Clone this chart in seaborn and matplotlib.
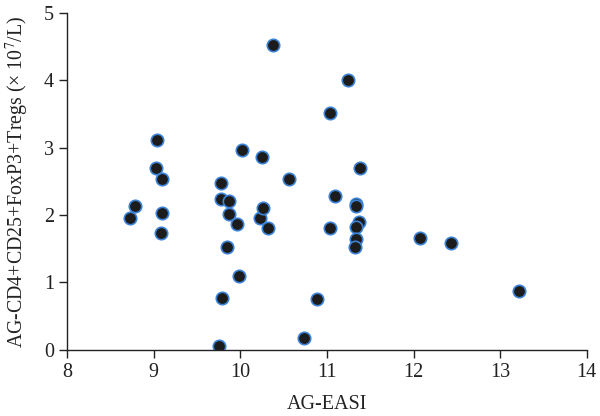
import matplotlib
matplotlib.use("Agg")
import matplotlib.pyplot as plt
import seaborn as sns
import pandas as pd

# AG-EASI (x) vs AG-CD4+CD25+FoxP3+ Tregs (y)
easi = [8.73, 8.78, 9.03, 9.04, 9.10, 9.10, 9.08, 9.75, 9.79, 9.78,
        9.78, 9.87, 9.87, 9.85, 9.96, 9.98, 10.02, 10.23, 10.26, 10.25,
        10.32, 10.38, 10.56, 10.73, 10.89, 11.03, 11.04, 11.09, 11.24, 11.33,
        11.33, 11.37, 11.38, 11.33, 11.33, 11.32, 12.07, 12.43, 13.22]
tregs = [1.96, 2.14, 2.70, 3.12, 2.53, 2.03, 1.74, 0.05, 0.77, 2.47,
         2.24, 2.21, 2.02, 1.52, 1.87, 1.10, 2.96, 1.96, 2.11, 2.86,
         1.81, 4.52, 2.53, 0.18, 0.76, 3.51, 1.81, 2.29, 4.00, 2.17,
         2.13, 1.90, 2.70, 1.83, 1.65, 1.52, 1.66, 1.58, 0.88]

df = pd.DataFrame({"easi": easi, "tregs": tregs})

sns.set_style("ticks")
plt.rcParams["font.family"] = ["Liberation Serif", "DejaVu Serif"]
plt.rcParams["mathtext.fontset"] = "stix"

fig = plt.figure(figsize=(6, 4.16), dpi=100)
ax = fig.add_axes([0.112, 0.159, 0.866, 0.81])

sns.scatterplot(data=df, x="easi", y="tregs", ax=ax, s=80,
                color="#1c1c1c", edgecolor="#3b82d6", linewidth=1.2)

ax.set_xlim(8, 14)
ax.set_ylim(0, 5)
ax.set_xticks(range(8, 15))
ax.set_yticks(range(0, 6))
ax.tick_params(direction="out", length=6, width=1, labelsize=14.5, colors="#222222")
for side in ["left", "bottom"]:
    ax.spines[side].set_color("#222222")
    ax.spines[side].set_linewidth(1)
sns.despine(ax=ax)

ax.set_xlabel("AG-EASI", fontsize=14.5, color="#222222", labelpad=9)
ax.set_ylabel("AG-CD4+CD25+FoxP3+Tregs (× 10$^{7}$/L)", fontsize=14.3,
              color="#222222", labelpad=9)

fig.savefig("out.png", dpi=100)
